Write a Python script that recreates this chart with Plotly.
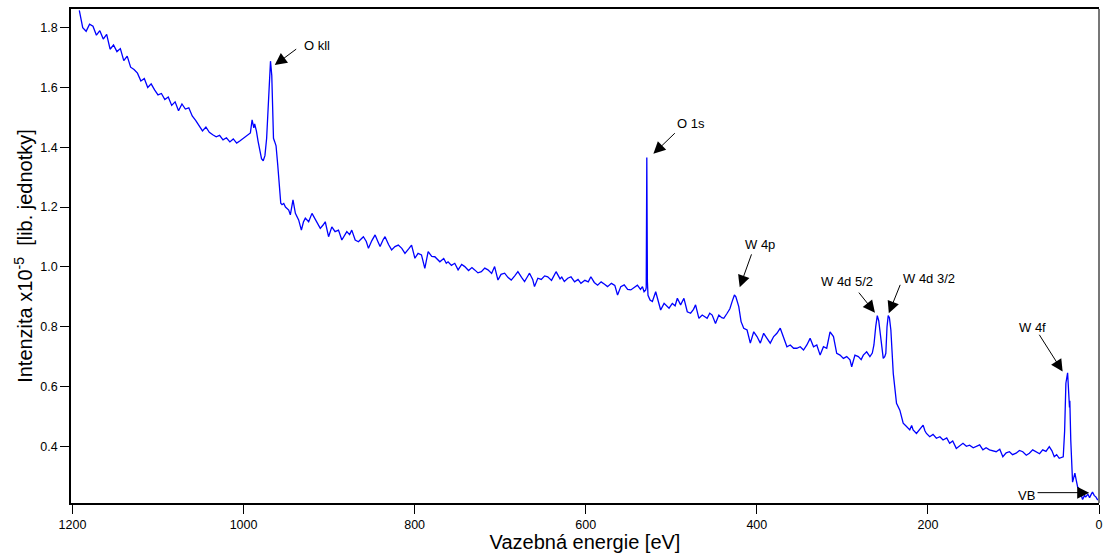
import plotly.graph_objects as go

# ---- data (binding energy in eV, intensity x1e-5) ----
energy_a = [1192, 1188, 1184, 1180, 1176, 1172, 1168, 1164, 1160, 1156, 1152, 1148, 1144, 1140,
            1136, 1132, 1128, 1124, 1120, 1116, 1112, 1108, 1104, 1100, 1096, 1092, 1088, 1084,
            1080, 1076, 1072, 1068, 1064, 1060, 1056, 1052, 1048, 1044, 1040, 1036, 1032, 1028,
            1024, 1020, 1016, 1012, 1008, 1004, 1000, 996, 992]
intensity_a = [1.858, 1.800, 1.788, 1.812, 1.805, 1.775, 1.790, 1.762, 1.778, 1.728, 1.742, 1.720,
               1.730, 1.690, 1.705, 1.668, 1.660, 1.648, 1.622, 1.630, 1.600, 1.612, 1.592, 1.575,
               1.580, 1.560, 1.568, 1.540, 1.552, 1.522, 1.545, 1.528, 1.532, 1.505, 1.490, 1.472,
               1.455, 1.468, 1.450, 1.442, 1.435, 1.440, 1.425, 1.432, 1.418, 1.428, 1.414, 1.422,
               1.430, 1.438, 1.448]

# O KLL region
energy_okll = [990, 988, 987, 985, 983, 981, 979, 977, 975, 973, 971, 969.5, 968.5, 967, 966, 965,
               963.5, 962, 960, 958, 956.5, 955, 953, 951]
intensity_okll = [1.492, 1.465, 1.478, 1.455, 1.420, 1.390, 1.362, 1.355, 1.372, 1.430, 1.550,
                  1.665, 1.688, 1.640, 1.520, 1.430, 1.418, 1.405, 1.340, 1.270, 1.213, 1.208,
                  1.212, 1.200]

energy_b = [947.2, 945.3, 942.2, 939.4, 935.6, 932.4, 930, 927.8, 923.9, 920, 916.1, 913, 910.3,
            907, 904.5, 900.6, 896.8, 893, 889, 885.1, 882, 879.3, 876, 873.5, 869.5, 865.7, 862,
            859.9, 856.5, 854, 850, 846.2, 843, 840.4, 837, 834.6, 830.5, 826.9, 823, 819.1, 815,
            811.3, 807, 803.6, 799.7, 796, 792, 788.1, 784.2, 780, 776.4, 773, 770.5, 766, 763,
            760.9, 757, 753.1, 749.2, 745, 741.4, 737, 733, 729.8, 726, 722, 718, 714.3, 710,
            706.5, 702.6, 699, 694.8, 691, 687.1, 683, 679.3, 675, 671.5, 668, 665.7, 662, 659.9,
            656, 652, 648, 644.4, 640, 637, 634.7, 630, 628, 625, 621, 617.2, 613, 609, 605.6,
            601, 597, 594, 590, 586.1, 582, 578, 574.5, 570, 566, 562.8, 559, 555, 551, 547.3,
            543, 539.6, 536, 533.7, 531.8, 530]
intensity_b = [1.190, 1.174, 1.224, 1.179, 1.157, 1.123, 1.150, 1.163, 1.151, 1.179, 1.157, 1.145,
               1.129, 1.140, 1.151, 1.101, 1.134, 1.118, 1.123, 1.090, 1.105, 1.118, 1.108, 1.123,
               1.090, 1.084, 1.095, 1.101, 1.085, 1.062, 1.088, 1.107, 1.085, 1.068, 1.090, 1.101,
               1.075, 1.057, 1.068, 1.073, 1.062, 1.045, 1.060, 1.073, 1.029, 1.045, 1.040, 0.995,
               1.051, 1.035, 1.034, 1.022, 1.017, 1.028, 1.012, 1.017, 1.005, 1.012, 0.990, 1.008,
               1.001, 0.988, 0.998, 0.990, 0.980, 0.984, 0.996, 0.990, 0.978, 1.001, 0.956, 0.975,
               0.979, 0.965, 0.956, 0.970, 0.984, 0.965, 0.951, 0.968, 0.979, 0.958, 0.934, 0.962,
               0.958, 0.970, 0.967, 0.955, 0.972, 0.984, 0.960, 0.966, 0.951, 0.962, 0.967, 0.950,
               0.958, 0.945, 0.955, 0.950, 0.967, 0.948, 0.939, 0.950, 0.942, 0.934, 0.945, 0.938,
               0.906, 0.934, 0.940, 0.925, 0.923, 0.932, 0.939, 0.925, 0.934, 0.917, 0.922]

# O 1s and W 4p region
energy_c = [529.3, 528.6, 527.9, 527.2, 524.8, 522.1, 518.2, 515.5, 512.4, 508.4, 505, 502.6,
            498.8, 495.5, 492.9, 489.1, 485.2, 481.3, 477.4, 474, 471.6, 467.7, 463.8, 461,
            458.1, 455, 452.2, 448.3, 444.4, 441, 438.6, 434.7, 431.5, 428.9, 426.2, 424.5,
            423.1, 421.1, 418.4, 415.3, 411.4, 407.6, 403.6, 399.8, 395.9, 392, 388.1, 384.3,
            380.3, 376.5, 372.6, 368.7, 364.8, 360.9, 357, 353.2, 349.3, 345.4, 341.5, 337.7,
            333.7, 329.9, 326, 322.1, 318.3, 314.4, 310.4, 306.6, 302.7, 298.8, 294.9, 291.1,
            289.1, 285.3, 281.3, 278, 275.5, 271.6, 267.8, 265]
intensity_c = [0.930, 1.366, 0.950, 0.905, 0.889, 0.884, 0.917, 0.884, 0.856, 0.878, 0.868, 0.862,
               0.878, 0.870, 0.895, 0.873, 0.895, 0.850, 0.845, 0.858, 0.873, 0.828, 0.839, 0.832,
               0.828, 0.845, 0.839, 0.811, 0.839, 0.830, 0.828, 0.845, 0.860, 0.884, 0.906, 0.900,
               0.889, 0.867, 0.817, 0.795, 0.789, 0.745, 0.783, 0.767, 0.745, 0.778, 0.761, 0.745,
               0.767, 0.778, 0.795, 0.767, 0.733, 0.739, 0.728, 0.728, 0.733, 0.722, 0.739, 0.761,
               0.733, 0.739, 0.705, 0.733, 0.728, 0.783, 0.767, 0.711, 0.705, 0.694, 0.700, 0.689,
               0.666, 0.705, 0.700, 0.690, 0.705, 0.716, 0.700, 0.712]

# W 4d doublet and tail
energy_d = [263.1, 261, 259.2, 257.5, 256.2, 254, 252.2, 250.5, 249.2, 247.8, 246.4, 245, 243.3,
            240.5, 238.5, 236.7, 232.8, 230.5, 228.9, 225, 221.2, 219, 217.3, 213.4, 211, 209.6,
            205.6, 203.5, 201.7, 197.9, 194, 190.1, 186, 182.3, 178, 174.6, 171, 166.8, 163, 159,
            155, 151.3, 147, 143.5, 139.5, 135.7, 132, 128, 124, 120.2, 116, 112.4, 108.5, 104.7,
            101, 96.9, 93, 89.1, 85, 81.4, 77.5, 73.6, 69.5, 65.8, 62, 58.1, 55, 52.3, 49.5, 46.5,
            44, 41.8]
intensity_d = [0.739, 0.800, 0.837, 0.820, 0.789, 0.720, 0.694, 0.700, 0.711, 0.800, 0.837, 0.830,
               0.789, 0.644, 0.580, 0.544, 0.521, 0.495, 0.477, 0.466, 0.455, 0.470, 0.455, 0.443,
               0.452, 0.455, 0.471, 0.452, 0.443, 0.432, 0.440, 0.427, 0.432, 0.421, 0.428, 0.410,
               0.418, 0.393, 0.402, 0.410, 0.400, 0.404, 0.395, 0.399, 0.405, 0.388, 0.395, 0.388,
               0.384, 0.382, 0.390, 0.365, 0.378, 0.382, 0.372, 0.377, 0.386, 0.382, 0.370, 0.377,
               0.388, 0.382, 0.375, 0.388, 0.383, 0.399, 0.385, 0.365, 0.372, 0.360, 0.362, 0.365]

# W 4f and valence band
energy_e = [40.2, 38.7, 36.7, 35.8, 35.0, 34.5, 34.1, 33.0, 31.8, 30.9, 29.5, 28.2, 26.5, 25.0,
            23.0, 21.2, 19.2, 17.0, 15.4, 13.0, 11.0, 9.0, 7.6, 5.5, 3.7, 1.4]
intensity_e = [0.450, 0.611, 0.646, 0.600, 0.555, 0.530, 0.552, 0.420, 0.300, 0.280, 0.295, 0.310,
               0.285, 0.264, 0.258, 0.244, 0.222, 0.235, 0.231, 0.240, 0.228, 0.240, 0.247, 0.235,
               0.231, 0.220]

x_ticks = [0, 200, 400, 600, 800, 1000, 1200]
y_ticks = [0.4, 0.6, 0.8, 1.0, 1.2, 1.4, 1.6, 1.8]

energy = energy_a + energy_okll + energy_b + energy_c + energy_d + energy_e
intensity = intensity_a + intensity_okll + intensity_b + intensity_c + intensity_d + intensity_e

# peak labels: (text, arrow tail x, tail y, tip x, tip y, text x, text y, text anchor)
labels = [
    ("O kll", 936.7, 1.732, 963.5, 1.675, 932.0, 1.739, "left"),
    ("O 1s", 494.1, 1.452, 520.9, 1.378, 495.5, 1.481, "left"),
    ("W 4p", 405.6, 1.047, 420.0, 0.932, 416.5, 1.076, "left"),
    ("W 4d 5/2", 282.1, 0.919, 261.9, 0.847, 294.6, 0.951, "center"),
    ("W 4d 3/2", 231.7, 0.945, 245.7, 0.845, 231.0, 0.960, "left"),
    ("W 4f", 70.9, 0.778, 42.5, 0.650, 78.3, 0.797, "center"),
    ("VB", 73.6, 0.245, 11.5, 0.245, 84.7, 0.237, "center"),
]

FONT = "Liberation Sans, Arial, sans-serif"

fig = go.Figure()
fig.add_trace(go.Scatter(x=energy, y=intensity, mode="lines",
                         line=dict(color="#0000ff", width=1.3), showlegend=False,
                         hoverinfo="skip"))

annotations = []
for text, tx, ty, hx, hy, lx, ly, anc in labels:
    annotations.append(dict(x=hx, y=hy, ax=tx, ay=ty, xref="x", yref="y", axref="x", ayref="y",
                            text="", showarrow=True, arrowhead=2, arrowsize=2.4, arrowwidth=1,
                            arrowcolor="black", standoff=0, startstandoff=0))
    annotations.append(dict(x=lx, y=ly, xref="x", yref="y", text=text, showarrow=False,
                            xanchor=anc, yanchor="middle",
                            font=dict(family=FONT, size=13, color="black")))

fig.update_layout(
    width=1107, height=553,
    margin=dict(l=71, r=4, t=9, b=50),
    paper_bgcolor="white", plot_bgcolor="white",
    font=dict(family=FONT, color="black"),
    annotations=annotations,
    shapes=[dict(type="line", xref="paper", yref="paper", x0=1, x1=1, y0=0, y1=1,
                 line=dict(color="#777777", width=2))],
    xaxis=dict(range=[1201.7, 0], tickvals=x_ticks, ticks="outside", ticklen=9, tickwidth=1,
               tickcolor="black", showline=True, linecolor="black", linewidth=1.5, mirror=True,
               showgrid=False, zeroline=False,
               tickfont=dict(family=FONT, size=12.5, color="black"),
               title=dict(text="Vazebná energie [eV]", standoff=2,
                          font=dict(family=FONT, size=20, color="black"))),
    yaxis=dict(range=[0.2104, 1.8625], tickvals=y_ticks, tickformat=".1f", ticks="outside",
               ticklen=9, tickwidth=1, tickcolor="black", showline=True, linecolor="black",
               linewidth=1.5, mirror=False, showgrid=False, zeroline=False,
               tickfont=dict(family=FONT, size=12.5, color="black"),
               title=dict(text="Intenzita x10<sup>-5</sup>\u00a0\u00a0[lib. jednotky]", standoff=2,
                          font=dict(family=FONT, size=20, color="black"))),
)

fig.write_html("out.html")
